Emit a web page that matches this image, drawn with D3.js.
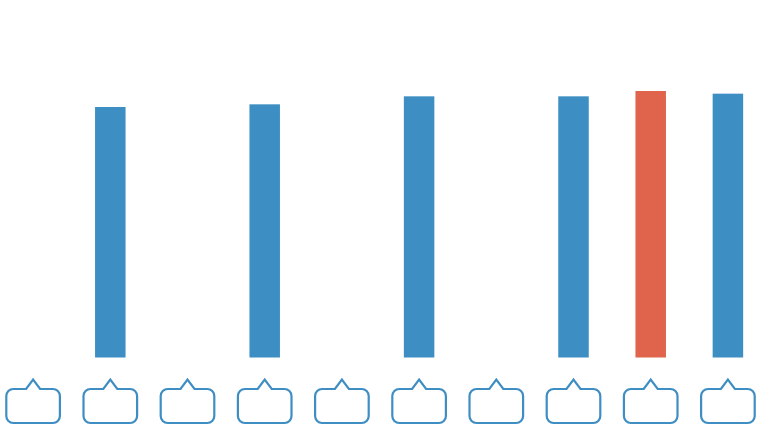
<!DOCTYPE html>
<html><head><meta charset="utf-8">
<script src="https://cdn.jsdelivr.net/npm/d3@7"></script>
<style>html,body{margin:0;padding:0;background:#fff;overflow:hidden}svg{display:block}</style>
</head><body><svg id="c" width="762" height="425"></svg>
<script>
const categories = ["c1","c2","c3","c4","c5","c6","c7","c8","c9","c10"];
const values = [null,94,null,95,null,98,null,98,100,99];
const highlighted = ["c9"];

const W = 762, H = 425, baseY = 357.5, topY = 91;
const BLUE = "#3d8ec3", RED = "#df644b", STROKE = "#3f8ec3";

const x = d3.scaleBand().domain(categories).range([-5.5, 766.5]).paddingInner(0.605).paddingOuter(0.3025);
const y = d3.scaleLinear().domain([0,100]).range([baseY, topY]);
const svg = d3.select("#c");

const data = categories.map((c,i)=>({c, v: values[i]}));

svg.append("g").selectAll("rect")
  .data(data.filter(d=>d.v!==null)).join("rect")
  .attr("x", d=>x(d.c)).attr("width", x.bandwidth())
  .attr("y", d=>y(d.v)).attr("height", d=>y(0)-y(d.v))
  .attr("fill", d=>highlighted.includes(d.c)?RED:BLUE);

function callout(cx){
  const hw=26.8, r=7, top=389, bot=423, th=9.5, tw=7;
  const p=d3.path();
  p.moveTo(cx-hw+r,top);
  p.lineTo(cx-tw,top); p.lineTo(cx,top-th); p.lineTo(cx+tw,top);
  p.lineTo(cx+hw-r,top);
  p.arcTo(cx+hw,top,cx+hw,top+r,r);
  p.lineTo(cx+hw,bot-r);
  p.arcTo(cx+hw,bot,cx+hw-r,bot,r);
  p.lineTo(cx-hw+r,bot);
  p.arcTo(cx-hw,bot,cx-hw,bot-r,r);
  p.lineTo(cx-hw,top+r);
  p.arcTo(cx-hw,top,cx-hw+r,top,r);
  p.closePath();
  return p.toString();
}
svg.append("g").selectAll("path")
  .data(categories).join("path")
  .attr("d", c=>callout(x(c)+x.bandwidth()/2))
  .attr("fill","#fff").attr("stroke",STROKE).attr("stroke-width",2.2).attr("stroke-linejoin","miter");
</script></body></html>
